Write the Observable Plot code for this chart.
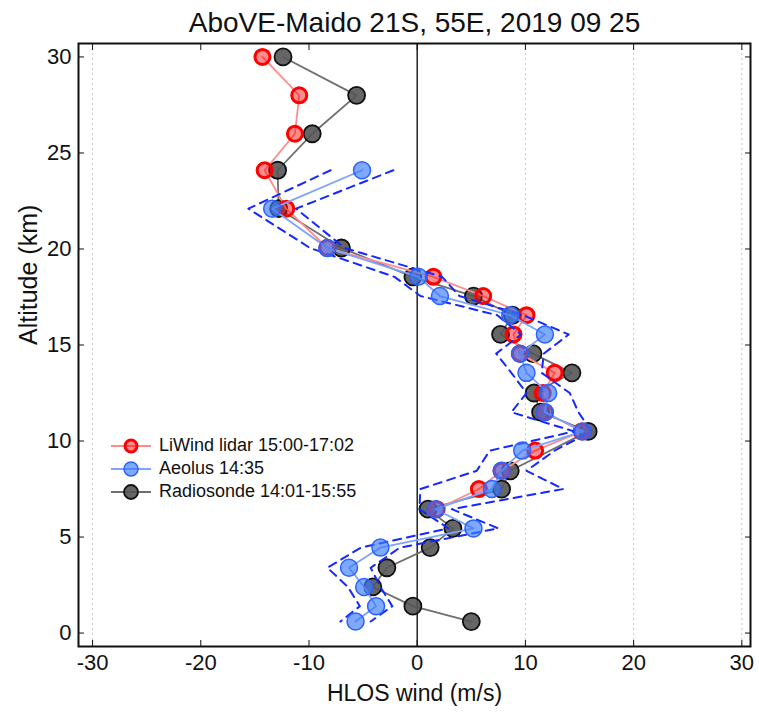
<!DOCTYPE html>
<html><head><meta charset="utf-8">
<script src="https://cdn.jsdelivr.net/npm/d3@7"></script>
<script src="https://cdn.jsdelivr.net/npm/@observablehq/plot@0.6"></script>
<style>
body{margin:0;background:#fff;font-family:"Liberation Sans",Arial,sans-serif;}
#wrap{position:relative;width:759px;height:716px;}
#legend{position:absolute;left:110px;top:434px;font-size:18px;color:#111;line-height:23px;}
#legend .row{display:flex;align-items:center;height:23px;}
#legend svg{margin-right:7px;}
</style>
</head><body>
<div id="wrap"><div id="chart"></div><div id="legend"></div></div>
<script>
const titleText = "AboVE-Maido 21S, 55E, 2019 09 25";
const xLabel = "HLOS wind (m/s)";
const yLabel = "Altitude (km)";
const xTicks = [-30, -20, -10, 0, 10, 20, 30];
const yTicks = [0, 5, 10, 15, 20, 25, 30];
const gridTicks = [-30, 10, 20, 30];

const seriesNames = ["LiWind lidar 15:00-17:02", "Aeolus 14:35", "Radiosonde 14:01-15:55"];

const lidarAlt  = [30.0, 28.0, 26.0, 24.1, 22.1, 20.05, 18.55, 17.55, 16.55, 15.55, 14.55, 13.55, 12.5, 11.5, 10.5, 9.5, 8.45, 7.5, 6.45];
const lidarWind = [-14.3, -10.9, -11.3, -14.1, -12.1, -8.3, 1.5, 6.1, 10.1, 8.9, 9.5, 12.7, 11.6, 11.8, 15.2, 10.9, 7.8, 5.7, 1.8];

const aeolusAlt  = [24.1, 22.1, 20.05, 18.55, 17.55, 16.55, 15.55, 14.55, 13.55, 12.5, 11.5, 10.5, 9.5, 8.45, 7.5, 6.45, 5.45, 4.45, 3.4, 2.4, 1.4, 0.6];
const aeolusWind = [-5.1, -13.4, -8.3, 0.1, 2.1, 8.6, 11.8, 9.5, 10.1, 12.1, 11.8, 15.3, 9.7, 7.8, 6.9, 1.7, 5.2, -3.4, -6.3, -4.9, -3.8, -5.7];
const aeolusErr  = [2.9, 2.2, 1.6, 2.2, 1.8, 1.2, 2.2, 2.2, 1.4, 2.0, 3.1, 0.8, 3.0, 2.3, 6.6, 1.5, 2.3, 1.8, 2.0, 1.5, 1.5, 1.4];

const sondeAlt  = [30, 28, 26, 24.1, 22.1, 20.05, 18.55, 17.55, 16.55, 15.55, 14.55, 13.55, 12.5, 11.5, 10.5, 8.45, 7.5, 6.45, 5.45, 4.45, 3.4, 2.4, 1.4, 0.6];
const sondeWind = [-12.4, -5.6, -9.7, -12.9, -12.8, -7.0, -0.4, 5.2, 8.8, 7.7, 10.7, 14.3, 10.8, 11.4, 15.8, 8.6, 7.8, 1.0, 3.3, 1.2, -2.8, -4.1, -0.4, 5.0];

const lidar = lidarAlt.map((a, i) => ({alt: a, wind: lidarWind[i]}));
const aeolus = aeolusAlt.map((a, i) => ({alt: a, wind: aeolusWind[i], lo: aeolusWind[i] - aeolusErr[i], hi: aeolusWind[i] + aeolusErr[i]}));
const sonde = sondeAlt.map((a, i) => ({alt: a, wind: sondeWind[i]}));

const FONT = "'Liberation Sans', Arial, sans-serif";
const styles = {
  lidar: {line: "#ff8c8c", fill: "#ff0000", fillOpacity: 0.45, stroke: "#ff0000", sw: 3, r: 7.5},
  aeolus: {line: "#7ea2ff", fill: "#3b7bff", fillOpacity: 0.65, stroke: "#2a62ff", sw: 1.5, r: 8.5},
  sonde: {line: "#6e6e6e", fill: "#555555", fillOpacity: 0.9, stroke: "#111111", sw: 1.8, r: 8.5}
};

const chart = Plot.plot({
  width: 759, height: 716,
  marginLeft: 78, marginRight: 9, marginTop: 43, marginBottom: 70,
  style: {fontFamily: FONT, fontSize: "20px", color: "#111", background: "white"},
  x: {domain: [-31.3, 30.8]},
  y: {domain: [-0.7, 30.7]},
  marks: [
    Plot.ruleX(gridTicks, {stroke: "#c8c8c8", strokeDasharray: "2,3"}),
    Plot.ruleX([0], {stroke: "#222", strokeWidth: 1.5}),
    Plot.line(sonde, {x: "wind", y: "alt", stroke: styles.sonde.line, strokeWidth: 1.8}),
    Plot.dot(sonde, {x: "wind", y: "alt", r: styles.sonde.r, fill: styles.sonde.fill, fillOpacity: styles.sonde.fillOpacity, stroke: styles.sonde.stroke, strokeWidth: styles.sonde.sw}),
    Plot.line(lidar, {x: "wind", y: "alt", stroke: styles.lidar.line, strokeWidth: 1.8}),
    Plot.dot(lidar, {x: "wind", y: "alt", r: styles.lidar.r, fill: styles.lidar.fill, fillOpacity: styles.lidar.fillOpacity, stroke: styles.lidar.stroke, strokeWidth: styles.lidar.sw}),
    Plot.line(aeolus, {x: "wind", y: "alt", stroke: styles.aeolus.line, strokeWidth: 1.8}),
    Plot.line(aeolus, {x: "lo", y: "alt", stroke: "#1428ff", strokeWidth: 2, strokeDasharray: "8,6"}),
    Plot.line(aeolus, {x: "hi", y: "alt", stroke: "#1428ff", strokeWidth: 2, strokeDasharray: "8,6"}),
    Plot.dot(aeolus, {x: "wind", y: "alt", r: styles.aeolus.r, fill: styles.aeolus.fill, fillOpacity: styles.aeolus.fillOpacity, stroke: styles.aeolus.stroke, strokeWidth: styles.aeolus.sw}),
    Plot.frame({stroke: "#111", strokeWidth: 2}),
    Plot.axisX({anchor: "bottom", ticks: xTicks, tickSize: -6, tickPadding: 14, tickFormat: d => String(d), label: null, fontSize: 22}),
    Plot.axisX({anchor: "top", ticks: xTicks, tickSize: -6, tickFormat: () => "", label: null}),
    Plot.axisY({anchor: "left", ticks: yTicks, tickSize: -6, tickPadding: 13, tickFormat: d => String(d), label: null, fontSize: 22}),
    Plot.axisY({anchor: "right", ticks: yTicks, tickSize: -6, tickFormat: () => "", label: null}),
    Plot.text([xLabel], {frameAnchor: "bottom", dy: 54, fontSize: 23, fill: "#111"}),
    Plot.text([yLabel], {frameAnchor: "left", dx: -50, rotate: -90, fontSize: 25, fill: "#111"}),
    Plot.text([titleText], {frameAnchor: "top", dy: -31, fontSize: 28, fill: "#111"})
  ]
});
document.getElementById("chart").appendChild(chart);

// legend
const legendStyles = [styles.lidar, styles.aeolus, styles.sonde];
const legend = document.getElementById("legend");
seriesNames.forEach((name, i) => {
  const s = legendStyles[i];
  const row = document.createElement("div");
  row.className = "row";
  row.innerHTML = `<svg width="42" height="20"><line x1="1" x2="41" y1="10" y2="10" stroke="${s.line}" stroke-width="1.8"/>` +
    `<circle cx="21" cy="10" r="${i === 0 ? 6 : 7}" fill="${s.fill}" fill-opacity="${s.fillOpacity}" stroke="${s.stroke}" stroke-width="${s.sw}"/></svg><span>${name}</span>`;
  legend.appendChild(row);
});
</script>
</body></html>
